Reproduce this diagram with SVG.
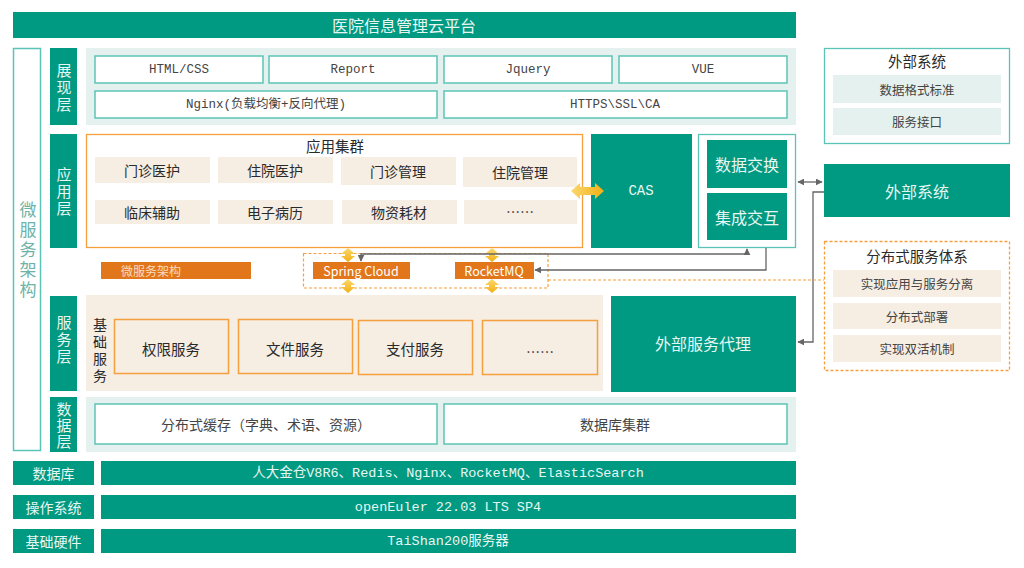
<svg xmlns="http://www.w3.org/2000/svg" width="1024" height="568" viewBox="0 0 1024 568">
<defs>
<style>
.g{fill:#009a82}
.lt{fill:#e4f1ef}
.bg{fill:#f6ede3}
.wb{fill:#fff;stroke:#5cc4b6;stroke-width:1.5}
.ob{fill:none;stroke:#f5a03c;stroke-width:1.5}
.of{fill:#e2761a}
.t{font-family:"Noto Sans CJK SC","Noto Sans",sans-serif;text-anchor:middle;dominant-baseline:central}
.v{font-family:"Noto Sans CJK SC","Noto Sans",sans-serif;text-anchor:middle;writing-mode:vertical-rl}
.m{font-family:"Liberation Mono","Noto Sans CJK SC",monospace;text-anchor:middle;dominant-baseline:central}
.w{fill:#e8f6f2}
.d{fill:#2a2a2a}
.gr{fill:#444}
.c{fill:none;stroke:#666;stroke-width:1.3}
</style>
<marker id="ah" viewBox="0 0 10 10" refX="9" refY="5" markerWidth="7" markerHeight="7" orient="auto-start-reverse" markerUnits="userSpaceOnUse">
<path d="M0,0 L10,5 L0,10 Z" fill="#666"/>
</marker>
<linearGradient id="yg" x1="0" y1="0" x2="1" y2="0">
<stop offset="0" stop-color="#fbd86e"/><stop offset="1" stop-color="#f2b014"/>
</linearGradient>
<linearGradient id="ygv" x1="0" y1="0" x2="0" y2="1">
<stop offset="0" stop-color="#fbd86e"/><stop offset="1" stop-color="#f2b014"/>
</linearGradient>
</defs>

<g id="title">
<rect x="13" y="12" width="783" height="26" class="g"/>
<text x="404" y="25" class="t w" font-size="16">医院信息管理云平台</text>
</g>

<g id="microservice-side">
<rect x="13.5" y="48.5" width="27" height="402" fill="#fff" stroke="#5cc4b6" stroke-width="1.5"/>
<text x="28" y="251" class="v" font-size="17" letter-spacing="3" fill="#6db3a8">微服务架构</text>
</g>

<g id="layer-labels">
<rect x="50" y="48" width="27" height="77" class="g"/>
<text x="64" y="88" class="v w" font-size="15" letter-spacing="2">展现层</text>
<rect x="50" y="134" width="27" height="114" class="g"/>
<text x="64" y="192" class="v w" font-size="15" letter-spacing="2">应用层</text>
<rect x="50" y="296" width="27" height="95" class="g"/>
<text x="64" y="340" class="v w" font-size="15" letter-spacing="2">服务层</text>
<rect x="50" y="397" width="27" height="55" class="g"/>
<text x="64" y="426" class="v w" font-size="15" letter-spacing="1">数据层</text>
</g>

<g id="presentation">
<rect x="86" y="48" width="710" height="77" class="lt"/>
<rect x="95" y="56" width="168" height="27" class="wb"/>
<text x="179" y="70" class="m gr" font-size="12.5">HTML/CSS</text>
<rect x="269" y="56" width="168" height="27" class="wb"/>
<text x="353" y="70" class="m gr" font-size="12.5">Report</text>
<rect x="444" y="56" width="168" height="27" class="wb"/>
<text x="528" y="70" class="m gr" font-size="12.5">Jquery</text>
<rect x="619" y="56" width="168" height="27" class="wb"/>
<text x="703" y="70" class="m gr" font-size="12.5">VUE</text>
<rect x="95" y="91" width="342" height="27" class="wb"/>
<text x="266" y="104.5" class="m gr" font-size="12.5">Nginx(负载均衡+反向代理)</text>
<rect x="444" y="91" width="343" height="27" class="wb"/>
<text x="615" y="104.5" class="m gr" font-size="12.5">HTTPS\SSL\CA</text>
</g>

<g id="app-cluster">
<rect x="86.5" y="134.5" width="496" height="113" fill="#fff" stroke="#f5a03c" stroke-width="1.3"/>
<text x="335" y="145" class="t d" font-size="14.5">应用集群</text>
<rect x="95" y="157" width="115" height="26" class="bg"/>
<text x="152" y="170" class="t d" font-size="14">门诊医护</text>
<rect x="218" y="157" width="115" height="26" class="bg"/>
<text x="275" y="170" class="t d" font-size="14">住院医护</text>
<rect x="341" y="157" width="115" height="28" class="bg"/>
<text x="398" y="171" class="t d" font-size="14">门诊管理</text>
<rect x="463" y="157" width="114" height="30" class="bg"/>
<text x="520" y="172" class="t d" font-size="14">住院管理</text>
<rect x="95" y="200" width="115" height="24" class="bg"/>
<text x="152" y="212" class="t d" font-size="14">临床辅助</text>
<rect x="218" y="200" width="115" height="24" class="bg"/>
<text x="275" y="212" class="t d" font-size="14">电子病历</text>
<rect x="342" y="200" width="115" height="24" class="bg"/>
<text x="399" y="212" class="t d" font-size="14">物资耗材</text>
<rect x="464" y="200" width="113" height="24" class="bg"/>
<text x="520" y="211" class="t d" font-size="14">……</text>
</g>

<g id="cas">
<rect x="591" y="134" width="101" height="114" class="g"/>
<text x="641" y="191" class="m w" font-size="14">CAS</text>
</g>

<g id="integration">
<rect x="698.5" y="134.5" width="97" height="113" fill="#fff" stroke="#5cc4b6" stroke-width="1.3"/>
<rect x="707" y="140" width="80" height="48" class="g"/>
<text x="747" y="164" class="t w" font-size="16">数据交换</text>
<rect x="707" y="193" width="80" height="47" class="g"/>
<text x="747" y="217" class="t w" font-size="16">集成交互</text>
</g>

<g id="ext-system-info">
<rect x="824.5" y="48.5" width="185" height="95" fill="#fff" stroke="#5cc4b6" stroke-width="1.3"/>
<text x="917" y="60" class="t d" font-size="14.5">外部系统</text>
<rect x="833" y="75" width="168" height="28" class="lt"/>
<text x="917" y="89" class="t gr" font-size="12.5">数据格式标准</text>
<rect x="833" y="108" width="168" height="27" class="lt"/>
<text x="917" y="121.5" class="t gr" font-size="12.5">服务接口</text>
</g>

<g id="ext-system">
<rect x="824" y="164" width="186" height="53" class="g"/>
<text x="917" y="191" class="t w" font-size="16">外部系统</text>
</g>

<g id="distributed">
<rect x="824.5" y="241.5" width="185" height="129" fill="#fff" stroke="#f5a03c" stroke-width="1.3" stroke-dasharray="3,2"/>
<text x="917" y="255" class="t d" font-size="14.5">分布式服务体系</text>
<rect x="833" y="270" width="168" height="27" class="bg"/>
<text x="917" y="283.5" class="t gr" font-size="12.5">实现应用与服务分离</text>
<rect x="833" y="303" width="168" height="26" class="bg"/>
<text x="917" y="316" class="t gr" font-size="12.5">分布式部署</text>
<rect x="833" y="335" width="168" height="27" class="bg"/>
<text x="917" y="348.5" class="t gr" font-size="12.5">实现双活机制</text>
</g>

<g id="microservice-arch">
<rect x="101" y="262" width="150" height="17" class="of"/>
<text x="151" y="270.5" class="t" font-size="12" fill="#f9dcc0">微服务架构</text>
</g>

<g id="middleware">
<rect x="303.5" y="253.5" width="244.5" height="34.5" fill="none" stroke="#f5a03c" stroke-width="1.2" stroke-dasharray="3,2"/>
<rect x="313" y="262" width="97" height="17" class="of"/>
<text x="361" y="270.5" class="t" font-size="12.5" fill="#fff">Spring Cloud</text>
<rect x="455" y="262" width="79" height="17" class="of"/>
<text x="494" y="270.5" class="t" font-size="12.5" fill="#fff">RocketMQ</text>
</g>

<g id="service-layer">
<rect x="86" y="295" width="517" height="96" class="bg"/>
<text x="100" y="352" class="v d" font-size="14" letter-spacing="3">基础服务</text>
<rect x="114.5" y="319.5" width="114" height="54" class="ob"/>
<text x="171" y="348" class="t d" font-size="14.5">权限服务</text>
<rect x="238.5" y="319.5" width="114" height="54" class="ob"/>
<text x="295" y="348" class="t d" font-size="14.5">文件服务</text>
<rect x="358.5" y="320.5" width="114" height="54" class="ob"/>
<text x="415" y="348" class="t d" font-size="14.5">支付服务</text>
<rect x="482.5" y="320.5" width="115" height="54" class="ob"/>
<text x="540" y="351" class="t d" font-size="14">……</text>
</g>

<g id="ext-proxy">
<rect x="611" y="296" width="185" height="96" class="g"/>
<text x="703" y="343" class="t w" font-size="16">外部服务代理</text>
</g>

<g id="data-layer">
<rect x="86" y="397" width="710" height="55" class="lt"/>
<rect x="95" y="404" width="342" height="40" class="wb"/>
<text x="266" y="424" class="t gr" font-size="14">分布式缓存（字典、术语、资源）</text>
<rect x="444" y="404" width="343" height="40" class="wb"/>
<text x="615" y="424" class="t gr" font-size="14">数据库集群</text>
</g>

<g id="database">
<rect x="13" y="461" width="81" height="24" class="g"/>
<text x="53.5" y="473" class="t w" font-size="14">数据库</text>
<rect x="101" y="461" width="695" height="24" class="g"/>
<text x="448" y="473" class="m w" font-size="13.5">人大金仓V8R6、Redis、Nginx、RocketMQ、ElasticSearch</text>
</g>

<g id="os">
<rect x="13" y="495" width="81" height="24" class="g"/>
<text x="53.5" y="507" class="t w" font-size="14">操作系统</text>
<rect x="101" y="495" width="695" height="24" class="g"/>
<text x="448" y="507" class="m w" font-size="13.5">openEuler 22.03 LTS SP4</text>
</g>

<g id="hardware">
<rect x="13" y="529" width="81" height="24" class="g"/>
<text x="53.5" y="541" class="t w" font-size="14">基础硬件</text>
<rect x="101" y="529" width="695" height="24" class="g"/>
<text x="448" y="541" class="m w" font-size="13.5">TaiShan200服务器</text>
</g>

<g id="connectors">
<path d="M571,191 L580,183 L580,187 L595,187 L595,183 L604,191 L595,199 L595,195 L580,195 L580,199 Z" fill="url(#yg)"/>
<path d="M348,248 L355,254 L351,254 L351,256 L355,256 L348,262 L341,256 L345,256 L345,254 L341,254 Z" fill="url(#ygv)"/>
<path d="M348,279 L355,285 L351,285 L351,287 L355,287 L348,293 L341,287 L345,287 L345,285 L341,285 Z" fill="url(#ygv)"/>
<path d="M492,248 L499,254 L495,254 L495,256 L499,256 L492,262 L485,256 L489,256 L489,254 L485,254 Z" fill="url(#ygv)"/>
<path d="M492,279 L499,285 L495,285 L495,287 L499,287 L492,293 L485,287 L489,287 L489,285 L485,285 Z" fill="url(#ygv)"/>
<path d="M798,182 H822" class="c" marker-start="url(#ah)" marker-end="url(#ah)"/>
<path d="M824,192 H813 V342 H798" class="c" marker-end="url(#ah)"/>
<path d="M766,248 V270 H535" class="c" marker-end="url(#ah)"/>
<path d="M361,261 V254 H747 V249" class="c" marker-start="url(#ah)" marker-end="url(#ah)"/>
<path d="M548,280 H824" fill="none" stroke="#f5a03c" stroke-width="1.2" stroke-dasharray="3,2"/>
</g>
</svg>
